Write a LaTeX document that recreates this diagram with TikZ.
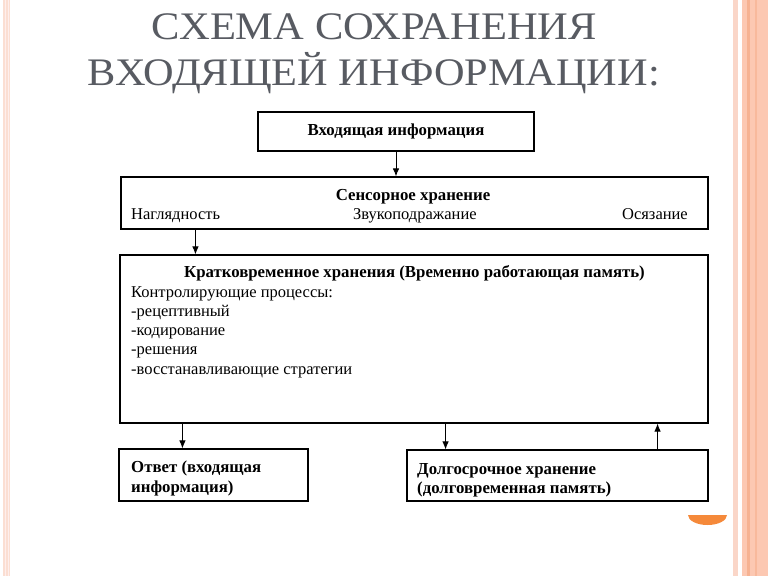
\documentclass[tikz,border=0pt]{standalone}
\usepackage{fontspec}
\setmainfont{Liberation Serif}
\usetikzlibrary{arrows.meta}
\definecolor{titlegray}{RGB}{88,91,98}
\definecolor{peach}{RGB}{252,200,178}
\definecolor{peachdark}{RGB}{246,178,146}
\definecolor{pinkline}{RGB}{250,214,200}
\definecolor{leftpink}{RGB}{251,222,210}
\definecolor{orangecap}{RGB}{245,137,58}
\tikzset{
  box/.style={draw=black, line width=1.1pt, minimum width=#1, inner sep=0pt},
  arr/.style={line width=1pt, -{Latex[length=8pt,width=6.5pt]}},
  txt/.style={inner sep=0pt, font=\fontsize{16.5}{19.5}\selectfont},
  btxt/.style={inner sep=0pt, font=\fontsize{16.8}{19.5}\selectfont\bfseries},
  ttl/.style={inner sep=0pt, text=titlegray, font=\fontsize{39}{44}\selectfont}
}
\begin{document}
\begin{tikzpicture}[x=1pt,y=-1pt]
\useasboundingbox (0,0) rectangle (768,576);
\fill[white] (0,0) rectangle (768,576);
% decorative stripes
\fill[leftpink] (3,0) rectangle (10,576);
\fill[pinkline!80!red!20] (4.5,0) rectangle (5.5,576);
\fill[pinkline!80!red!20] (8,0) rectangle (9,576);
\fill[pinkline] (733,0) rectangle (737.5,576);
\fill[peach] (742,0) rectangle (768,576);
\fill[peachdark] (747,0) rectangle (750,576);
\fill[peachdark!70!peach] (755,0) rectangle (756.5,576);
\fill[orangecap] (688,515) arc[start angle=180, end angle=0, x radius=19.5, y radius=10] -- cycle;
% title
\node[ttl, anchor=base] (t1) at (374.5,39) {\resizebox{445pt}{\height}{СХЕМА СОХРАНЕНИЯ}};
\node[ttl, anchor=base] (t2) at (374,85) {\resizebox{572pt}{\height}{ВХОДЯЩЕЙ ИНФОРМАЦИИ:}};
% boxes
\node[box=276pt, minimum height=39pt] (b1) at (396,131.5) {};
\node[box=587pt, minimum height=52pt] (b2) at (414.5,203) {};
\node[box=588pt, minimum height=168pt] (b3) at (414,339) {};
\node[box=189pt, minimum height=52pt] (b4) at (213.5,475) {};
\node[box=301pt, minimum height=51pt] (b5) at (557.5,475.5) {};
% texts
\node[btxt, anchor=base] (l1) at (396,135) {Входящая информация};
\node[btxt, anchor=base] (l2) at (413,200) {Сенсорное хранение};
\node[txt, anchor=base west] (l3) at (131,219) {Наглядность};
\node[txt, anchor=base west] (l4) at (353,219) {Звукоподражание};
\node[txt, anchor=base east] (l5) at (688,219) {Осязание};
\node[btxt, anchor=base] (l6) at (414.5,277) {Кратковременное хранения (Временно работающая память)};
\node[txt, anchor=base west] (l7) at (131,297) {Контролирующие процессы:};
\node[txt, anchor=base west] (l8) at (131,316) {-рецептивный};
\node[txt, anchor=base west] (l9) at (131,335) {-кодирование};
\node[txt, anchor=base west] (l10) at (131,354.5) {-решения};
\node[txt, anchor=base west] (l11) at (131,374.5) {-восстанавливающие стратегии};
\node[btxt, anchor=base west] (l12) at (131,472) {Ответ (входящая};
\node[btxt, anchor=base west] (l13) at (131,492) {информация)};
\node[btxt, anchor=base west] (l14) at (417,474) {Долгосрочное хранение};
\node[btxt, anchor=base west] (l15) at (417,493) {(долговременная память)};
% connectors
\draw[arr] (b1.south) -- (b1.south |- b2.north);
\draw[arr] ([xshift=75pt]b2.south west) -- ([xshift=75pt]b2.south west |- b3.north);
\draw[arr] ([xshift=63pt]b3.south west) -- ([xshift=63pt]b3.south west |- b4.north);
\draw[arr] ([xshift=-263pt]b3.south east) -- ([xshift=-263pt]b3.south east |- b5.north);
\draw[arr] ([xshift=-51pt]b5.north east) -- ([xshift=-51pt]b5.north east |- b3.south);
\end{tikzpicture}
\end{document}
